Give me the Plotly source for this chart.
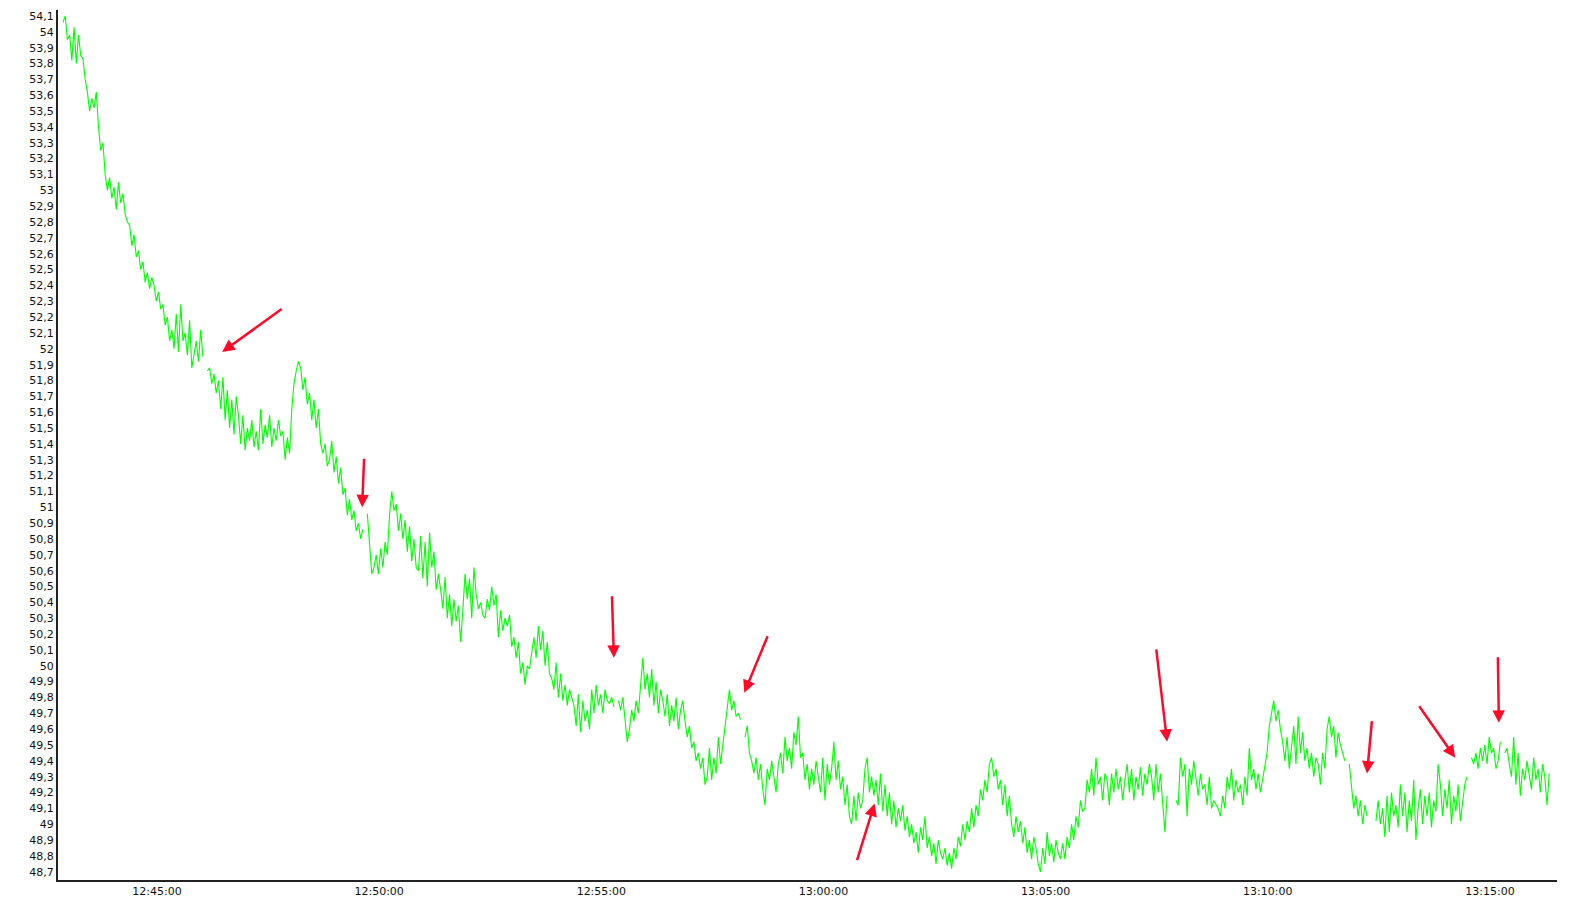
import pandas as pd
import plotly.graph_objects as go

# ---- data (sampled every 3 s, None = dropout in the recording) ----
start_time = "2024-01-01 12:42:53"
step = "3s"

values = [
    54.06, 54.10, 53.95, 53.98, 53.82, 54.03, 53.80, 53.98, 53.85, 53.83,
    53.70, 53.62, 53.50, 53.58, 53.52, 53.62, 53.40, 53.25, 53.30, 53.10,
    53.00, 53.08, 52.95, 53.02, 52.88, 53.05, 52.92, 52.98, 52.85, 52.80,
    52.78, 52.65, 52.72, 52.58, 52.62, 52.50, 52.55, 52.42, 52.48, 52.38,
    52.45, 52.40, 52.30, 52.36, 52.25, 52.28, 52.15, 52.20, 52.05, 52.12,
    52.00, 52.22, 51.98, 52.28, 52.05, 52.10, 51.96, 52.18, 51.88, 51.98,
    52.05, 51.92, 52.12, 51.95, None, 51.86, 51.88, 51.78, 51.84, 51.72,
    51.80, 51.62, 51.82, 51.55, 51.74, 51.50, 51.68, 51.46, 51.70, 51.58,
    51.40, 51.58, 51.36, 51.50, 51.42, 51.55, 51.38, 51.48, 51.36, 51.62,
    51.40, 51.52, 51.44, 51.58, 51.38, 51.50, 51.42, 51.55, 51.45, 51.48,
    51.30, 51.44, 51.34, 51.62, 51.78, 51.86, 51.92, 51.88, 51.74, 51.82,
    51.65, 51.72, 51.55, 51.68, 51.50, 51.62, 51.40, 51.34, 51.40, 51.26,
    51.30, 51.42, 51.22, 51.32, 51.15, 51.25, 51.08, 51.12, 50.95, 51.05,
    50.92, 50.98, 50.85, 50.90, 50.80, 50.86, None, 50.96, 50.75, 50.58,
    50.62, 50.70, 50.58, 50.74, 50.62, 50.78, 50.70, 50.95, 51.10, 50.98,
    51.02, 50.85, 50.96, 50.80, 50.92, 50.72, 50.88, 50.66, 50.80, 50.62,
    50.60, 50.82, 50.55, 50.78, 50.50, 50.84, 50.62, 50.72, 50.48, 50.58,
    50.48, 50.36, 50.56, 50.30, 50.45, 50.25, 50.42, 50.28, 50.38, 50.15,
    50.35, 50.58, 50.42, 50.55, 50.30, 50.62, 50.45, 50.36, 50.40, 50.32,
    50.30, 50.42, 50.35, 50.50, 50.38, 50.45, 50.18, 50.35, 50.22, 50.30,
    50.25, 50.32, 50.12, 50.18, 50.05, 50.15, 49.95, 50.02, 49.88, 50.00,
    49.98, 50.08, 50.18, 50.05, 50.25, 50.10, 50.22, 50.00, 50.15, 49.95,
    49.92, 49.85, 50.02, 49.80, 49.95, 49.78, 49.88, 49.75, 49.85, 49.80,
    49.75, 49.62, 49.82, 49.58, 49.78, 49.65, 49.72, 49.60, 49.85, 49.70,
    49.88, 49.75, 49.82, 49.70, 49.85, 49.78, 49.76, 49.80, 49.74, None,
    49.78, 49.72, 49.80, 49.68, 49.52, 49.60, 49.72, 49.65, 49.78, 49.70,
    49.90, 50.05, 49.85, 49.95, 49.80, 49.98, 49.75, 49.90, 49.70, 49.85,
    49.78, 49.68, 49.82, 49.62, 49.75, 49.65, 49.80, 49.60, 49.72, 49.78,
    49.65, 49.55, 49.62, 49.48, 49.52, 49.40, 49.45, 49.35, 49.42, 49.25,
    49.30, 49.48, 49.28, 49.42, 49.32, 49.55, 49.38, 49.50, 49.60, 49.75,
    49.85, 49.72, 49.78, 49.68, 49.70, 49.66, None, 49.55, 49.62, 49.45,
    49.40, 49.32, 49.42, 49.28, 49.38, 49.22, 49.12, 49.35, 49.28, 49.40,
    49.30, 49.20, 49.38, 49.45, 49.32, 49.55, 49.40, 49.48, 49.35, 49.58,
    49.50, 49.68, 49.42, 49.45, 49.28, 49.38, 49.22, 49.35, 49.25, 49.40,
    49.30, 49.20, 49.42, 49.15, 49.38, 49.25, 49.35, 49.52, 49.28, 49.40,
    49.22, 49.30, 49.12, 49.25, 49.05, 49.00, 49.18, 49.02, 49.20, 49.10,
    49.15, 49.35, 49.42, 49.20, 49.30, 49.18, 49.28, 49.12, 49.32, 49.08,
    49.25, 49.05, 49.20, 49.00, 49.15, 48.98, 49.10, 49.02, 49.12, 48.96,
    49.05, 48.92, 49.00, 48.88, 48.95, 48.82, 48.98, 48.90, 49.05, 48.85,
    48.92, 48.80, 48.88, 48.75, 48.90, 48.82, 48.78, 48.85, 48.74, 48.82,
    48.72, 48.85, 48.78, 48.92, 48.86, 49.00, 48.90, 49.02, 48.95, 49.10,
    48.98, 49.12, 49.05, 49.22, 49.15, 49.28, 49.20, 49.38, 49.42, 49.30,
    49.35, 49.22, 49.28, 49.12, 49.25, 49.05, 49.18, 49.00, 48.92, 49.05,
    48.95, 49.02, 48.88, 48.98, 48.82, 48.90, 48.78, 48.92, 48.85, 48.75,
    48.70, 48.85, 48.75, 48.95, 48.80, 48.88, 48.76, 48.90, 48.82, 48.78,
    48.88, 48.78, 48.92, 48.85, 49.00, 48.90, 49.05, 48.98, 49.15, 49.08,
    49.10, 49.28, 49.20, 49.35, 49.18, 49.42, 49.25, 49.30, 49.15, 49.32,
    49.28, 49.12, 49.32, 49.20, 49.35, 49.22, 49.30, 49.15, 49.28, 49.38,
    49.20, 49.35, 49.15, 49.30, 49.22, 49.36, 49.18, 49.32, 49.25, 49.38,
    49.30, 49.15, 49.38, 49.20, 49.32, 49.10, 48.95, 49.18, None, 49.22,
    None, 49.15, 49.12, 49.42, 49.30, 49.38, 49.05, 49.35, 49.25, 49.40,
    49.28, 49.18, 49.32, 49.22, 49.25, 49.12, 49.30, 49.10, 49.15, 49.12,
    49.10, 49.05, 49.18, 49.10, 49.30, 49.22, 49.35, 49.15, 49.28, 49.20,
    49.25, 49.12, 49.30, 49.18, 49.48, 49.28, 49.35, 49.22, 49.32, 49.20,
    49.28, 49.35, 49.45, 49.62, 49.70, 49.78, 49.65, 49.72, 49.60, 49.52,
    49.40, 49.55, 49.35, 49.50, 49.62, 49.38, 49.68, 49.45, 49.58, 49.40,
    49.48, 49.35, 49.45, 49.30, 49.42, 49.38, 49.25, 49.45, 49.35, 49.60,
    49.68, 49.55, 49.62, 49.42, 49.58, 49.50, 49.45, 49.40, None, 49.38,
    49.25, 49.10, 49.18, 49.05, 49.15, 49.00, 49.12, 49.05, None, 48.98,
    None, 49.02, 49.15, 49.00, 49.10, 48.92, 49.18, 48.95, 49.20, 49.05,
    49.12, 48.98, 49.25, 49.05, 49.20, 48.95, 49.15, 49.02, 49.28, 48.90,
    49.10, 49.22, 49.00, 49.18, 49.05, 49.20, 48.98, 49.15, 49.08, 49.38,
    49.25, 49.05, 49.22, 49.10, 49.28, 49.00, 49.18, 49.08, 49.25, 49.02,
    49.12, 49.25, 49.30, None, 49.42, 49.38, 49.45, 49.35, 49.48, 49.40,
    49.50, 49.38, 49.55, 49.45, 49.48, 49.35, 49.40, 49.52, None, 49.45,
    49.48, 49.38, 49.30, 49.55, 49.25, 49.45, 49.18, 49.35, 49.28, 49.40,
    49.32, 49.22, 49.42, 49.28, 49.35, 49.20, 49.38, 49.30, 49.12, 49.32,
]

# red arrow annotations: tip (time, value) and tail offset in pixels
arrow_times = ["12:46:28", "12:49:37", "12:55:17", "12:58:13", "13:01:09",
               "13:07:44", "13:12:14", "13:14:13", "13:15:12"]
arrow_values = [51.98, 51.00, 50.05, 49.83, 49.13, 49.52, 49.32, 49.42, 49.64]
arrow_dx = [61, 2, -2, 24, -18, -11, 5, -37, -1]
arrow_dy = [-44, -50, -63, -58, 58, -94, -54, -53, -67]

day = "2024-01-01 "
times = pd.date_range(start=start_time, periods=len(values), freq=step)

fig = go.Figure()
fig.add_trace(go.Scatter(
    x=times, y=values, mode="lines",
    line=dict(color="#00ff00", width=1.1),
    connectgaps=False, hoverinfo="skip", showlegend=False,
))

for t, v, dx, dy in zip(arrow_times, arrow_values, arrow_dx, arrow_dy):
    fig.add_annotation(
        x=day + t, y=v, xref="x", yref="y", ax=dx, ay=dy,
        showarrow=True, arrowhead=2, arrowsize=1, arrowwidth=2.5,
        arrowcolor="#ff0a28", standoff=0, text="",
    )

font = dict(family="DejaVu Sans, Verdana, sans-serif", size=11, color="#111111")

fig.update_layout(
    width=1571, height=900,
    margin=dict(l=58, r=14, t=10, b=20),
    paper_bgcolor="white", plot_bgcolor="white",
    separators=", ",
    font=font,
    xaxis=dict(
        type="date", automargin=False,
        range=[day + "12:42:46.3", day + "13:16:30.5"],
        tick0=day + "12:45:00", dtick=300000, tickformat="%H:%M:%S",
        showgrid=False, zeroline=False, showline=True,
        linecolor="#222222", linewidth=2, ticks="", tickfont=font,
    ),
    yaxis=dict(
        automargin=False,
        range=[48.648, 54.138], tick0=48.7, dtick=0.1,
        showgrid=False, zeroline=False, showline=True,
        linecolor="#222222", linewidth=2, ticks="", tickfont=font,
    ),
)

fig.write_html(
    "out.html",
    config={"displayModeBar": False},
    post_script="document.body.style.margin='0px';document.body.style.overflow='hidden';",
)
